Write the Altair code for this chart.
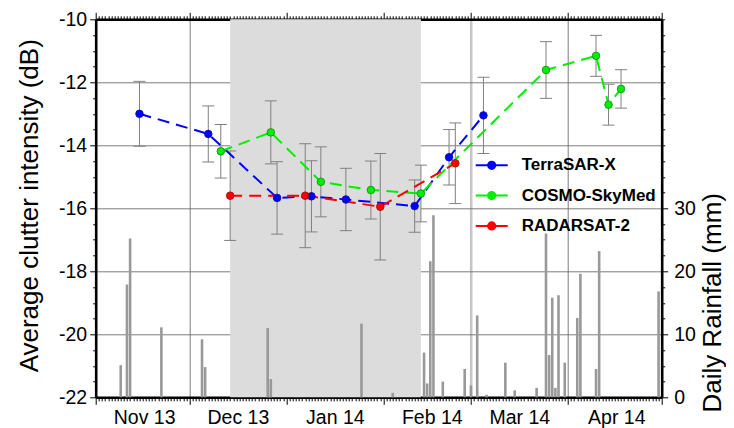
import altair as alt
import pandas as pd

FONT = "Liberation Sans"

# ---------------- data ----------------
series_names = ["TerraSAR-X", "COSMO-SkyMed", "RADARSAT-2"]
series_colors = ["#0000ff", "#00ee00", "#ff0000"]

tsx_dates = ["2013-11-15", "2013-12-07", "2013-12-29", "2014-01-09", "2014-01-20",
             "2014-02-11", "2014-02-22", "2014-03-05"]
tsx_db = [-13.00, -13.64, -15.67, -15.62, -15.72, -15.93, -14.38, -13.05]
tsx_err = [1.03, 0.89, 1.15, 1.13, 0.99, 0.83, 0.88, 1.21]

csk_dates = ["2013-12-11", "2013-12-27", "2014-01-12", "2014-01-28", "2014-02-13",
             "2014-03-25", "2014-04-10", "2014-04-14", "2014-04-18"]
csk_db = [-14.19, -13.59, -15.16, -15.42, -15.53, -11.61, -11.16, -12.71, -12.21]
csk_err = [0.85, 1.00, 1.11, 0.92, 0.90, 0.90, 0.65, 0.65, 0.61]

rs2_dates = ["2013-12-14", "2014-01-07", "2014-01-31", "2014-02-24"]
rs2_db = [-15.60, -15.60, -15.95, -14.57]
rs2_err = [1.42, 1.65, 1.69, 1.28]

rain_dates = ["2013-11-09", "2013-11-11", "2013-11-12", "2013-11-22", "2013-12-05",
              "2013-12-06", "2013-12-26", "2013-12-27", "2014-01-25", "2014-02-04",
              "2014-02-14", "2014-02-15", "2014-02-16", "2014-02-17", "2014-02-20",
              "2014-02-27", "2014-03-01", "2014-03-03", "2014-03-06", "2014-03-12",
              "2014-03-15", "2014-03-22", "2014-03-25", "2014-03-26", "2014-03-27",
              "2014-03-28", "2014-03-29", "2014-03-31", "2014-04-04", "2014-04-05",
              "2014-04-10", "2014-04-11", "2014-04-30"]
rain_mm = [5.1, 17.9, 25.2, 11.1, 9.2,
           4.8, 11.0, 2.9, 11.7, 0.7,
           7.1, 2.2, 21.6, 28.9, 2.5,
           4.5, 1.9, 13.0, 0.4, 5.5,
           1.1, 1.5, 26.0, 6.7, 15.8,
           1.5, 16.2, 5.5, 12.6, 19.6,
           4.5, 23.2, 16.8]

shade_start = ["2013-12-14"]
shade_end = ["2014-02-13"]

x_start = "2013-11-01"
x_end = "2014-05-01"
db_ticks = [-22 + 0.5 * i for i in range(25)]
rain_ticks = [2.5 * i for i in range(25)]

# ---------------- tables ----------------
rows = []
for name, ds, vs, es in [(series_names[0], tsx_dates, tsx_db, tsx_err),
                         (series_names[1], csk_dates, csk_db, csk_err),
                         (series_names[2], rs2_dates, rs2_db, rs2_err)]:
    for d, v, e in zip(ds, vs, es):
        rows.append({"series": name, "date": d, "db": v, "lo": v - e, "hi": v + e})
pts = pd.DataFrame(rows)
rain = pd.DataFrame({"date": rain_dates, "mm": rain_mm})
shade = pd.DataFrame({"start": shade_start, "end": shade_end})

def ms(s):
    return int(pd.Timestamp(s, tz="UTC").timestamp() * 1000)

day_ticks = [ms(d) for d in pd.date_range(x_start, x_end, freq="D")]

xscale = alt.Scale(type="utc", domain=[ms(x_start), ms(x_end)], padding=0, nice=False)
yscale_db = alt.Scale(domain=[-22, -10], nice=False, zero=False, padding=0)
yscale_rain = alt.Scale(domain=[0, 60], nice=False, padding=0)

month_start = "utcdate(datum.value) == 1"
march_first = "utcmonth(datum.value) == 2 && utcdate(datum.value) == 1"

x_bottom = alt.Axis(
    orient="bottom", values=day_ticks, title=None,
    labelExpr="utcdate(datum.value) == 16 ? utcFormat(datum.value, '%b %y') : ''",
    labelFont=FONT, labelFontSize=19.5, labelColor="black", labelOverlap=False,
    labelFlush=False, labelBaseline="alphabetic", labelPadding=22.5, labelOffset=1.5,
    tickSize={"condition": {"test": month_start, "value": 7}, "value": 3.5},
    tickColor="black", tickWidth=1,
    grid=True,
    gridOpacity={"condition": {"test": month_start, "value": 1}, "value": 0},
    gridColor={"condition": {"test": march_first, "value": "#c6c6c6"}, "value": "#6e6e6e"},
    gridWidth={"condition": {"test": march_first, "value": 2.6}, "value": 0.9},
    domainColor="black", domainWidth=2.6,
)
x_top = alt.Axis(
    orient="top", values=day_ticks, title=None, labels=False, grid=False,
    tickSize={"condition": {"test": month_start, "value": 7}, "value": 3.5},
    tickColor="black", tickWidth=1, domainColor="black", domainWidth=2.6,
)
y_left = alt.Axis(
    orient="left", values=db_ticks, title="Average clutter intensity (dB)",
    labelExpr="datum.value % 2 == 0 ? '' + datum.value : ''",
    labelFont=FONT, labelFontSize=19.5, labelColor="black", labelOverlap=False,
    labelFlush=False, labelPadding=3, labelBaseline="middle",
    tickSize={"condition": {"test": "datum.value % 2 == 0", "value": 6}, "value": 3},
    tickColor="black", tickWidth=1,
    grid=True,
    gridOpacity={"condition": {"test": "datum.value % 2 == 0", "value": 1}, "value": 0},
    gridColor="#6e6e6e", gridWidth=0.9,
    domainColor="black", domainWidth=2.6,
    titleFont=FONT, titleFontSize=26, titleFontWeight="normal", titleColor="black",
    titleAngle=270, titleAlign="center", titleBaseline="alphabetic",
    titleX=-58, titleY=186,
)
y_right = alt.Axis(
    orient="right", values=rain_ticks, title="Daily Rainfall (mm)",
    labelExpr="datum.value % 10 == 0 && datum.value <= 30 ? '' + datum.value : ''",
    labelFont=FONT, labelFontSize=19.5, labelColor="black", labelOverlap=False,
    labelFlush=False, labelPadding=6, labelBaseline="middle",
    tickSize={"condition": {"test": "datum.value % 10 == 0 && datum.value <= 30", "value": 6}, "value": 3},
    tickColor="black", tickWidth=1, grid=False,
    domainColor="black", domainWidth=2.6,
    titleFont=FONT, titleFontSize=26, titleFontWeight="normal", titleColor="black",
    titleAngle=270, titleAlign="center", titleBaseline="alphabetic",
    titleX=59, titleY=283,
)

legend_path = ("M-2,0L2,0M0.45,0A0.45,0.45,0,1,1,-0.45,0"
               "A0.45,0.45,0,1,1,0.45,0Z")
leg = alt.Legend(
    title=None, orient="none", legendX=387, legendY=137, padding=0,
    symbolType=legend_path, symbolSize=256, symbolStrokeWidth=2, symbolOpacity=1,
    labelFont=FONT, labelFontSize=17, labelFontWeight="bold", labelColor="black",
    labelOffset=21, rowPadding=13.3,
)
cscale = alt.Scale(domain=series_names, range=series_colors)

# ---------------- rainfall layer (right axis) ----------------
shade_rect = alt.Chart(shade).mark_rect(color="#dcdcdc").encode(
    x=alt.X("start:T", scale=xscale, axis=x_top),
    x2="end:T",
)
bars = alt.Chart(rain).mark_bar(size=2.6, color="#999999").encode(
    x=alt.X("date:T", scale=xscale, axis=x_top),
    y=alt.Y("mm:Q", scale=yscale_rain, axis=y_right),
)
rain_layer = alt.layer(shade_rect, bars)

# ---------------- backscatter layer (left axis) ----------------
base = alt.Chart(pts)
X_DB = alt.X("date:T", scale=xscale, axis=x_bottom)
err_rule = base.mark_rule(color="#808080", strokeWidth=1).encode(
    x=X_DB,
    y=alt.Y("lo:Q", scale=yscale_db, axis=y_left),
    y2="hi:Q",
)
err_lo = base.mark_tick(orient="horizontal", size=12, thickness=1, color="#808080", opacity=1).encode(
    x=X_DB,
    y=alt.Y("lo:Q", scale=yscale_db, axis=y_left),
)
err_hi = base.mark_tick(orient="horizontal", size=12, thickness=1, color="#808080", opacity=1).encode(
    x=X_DB,
    y=alt.Y("hi:Q", scale=yscale_db, axis=y_left),
)
lines = base.mark_line(strokeWidth=2, strokeDash=[12, 7]).encode(
    x=X_DB,
    y=alt.Y("db:Q", scale=yscale_db, axis=y_left),
    stroke=alt.Stroke("series:N", scale=cscale, legend=leg),
)
points = base.mark_point(filled=True, shape="circle", size=55, opacity=1, strokeWidth=0.8).encode(
    x=X_DB,
    y=alt.Y("db:Q", scale=yscale_db, axis=y_left),
    fill=alt.Fill("series:N", scale=cscale, legend=leg),
    stroke=alt.Stroke("series:N", scale=cscale, legend=leg),
)
outline = base.mark_point(filled=False, shape="circle", size=58, opacity=1,
                          stroke="#202020", strokeOpacity=0.55, strokeWidth=0.7).encode(
    x=X_DB,
    y=alt.Y("db:Q", scale=yscale_db, axis=y_left),
)
db_layer = alt.layer(err_rule, err_lo, err_hi, lines, points, outline)

chart = (
    alt.layer(rain_layer, db_layer)
    .resolve_scale(y="independent")
    .resolve_axis(x="independent", y="independent")
    .properties(
        width=566, height=378,
        autosize=alt.AutoSizeParams(type="none"),
        padding={"left": 87.7, "top": 11.3, "right": 64.3, "bottom": 32},
        background="white",
    )
    .configure_view(stroke=None)
)

chart.save("out.html", embed_options={"renderer": "svg", "actions": False})
